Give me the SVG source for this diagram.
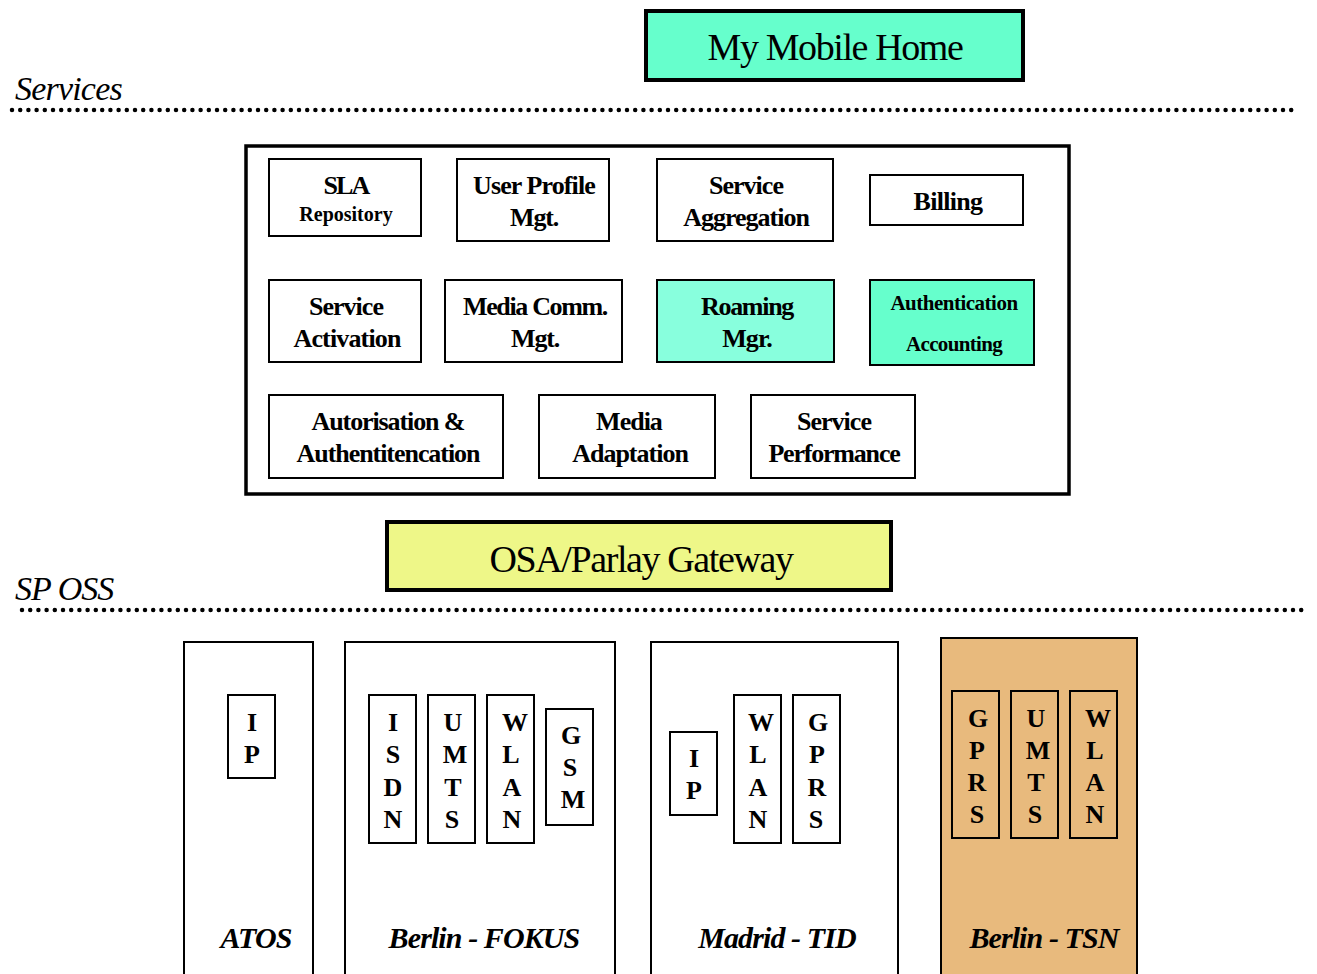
<svg xmlns="http://www.w3.org/2000/svg" width="1317" height="974" viewBox="0 0 1317 974">
  <style>
    .box { fill: #ffffff; stroke: #000000; stroke-width: 2; }
    .thick { stroke-width: 4; }
    text { font-family: "Liberation Serif", "Times New Roman", Times, serif; fill: #000000; }
    .t { text-anchor: middle; }
    .b { font-weight: bold; font-size: 26px; }
    .big { font-size: 38px; letter-spacing: -1.4px; }
    .lbl { font-style: italic; font-size: 34px; }
    .site { font-style: italic; font-weight: bold; font-size: 30px; text-anchor: middle; letter-spacing: -0.9px; }
    .stack { font-weight: bold; font-size: 26px; text-anchor: middle; }
    .dots { stroke: #000000; stroke-width: 4.5; stroke-linecap: round; stroke-dasharray: 0 8.2; }
  </style>

  <!-- layer labels and separators -->
  <g id="layers">
    <text class="lbl" x="15" y="100" letter-spacing="-0.8">Services</text>
    <line class="dots" x1="12" y1="110" x2="1296" y2="110"/>
    <text class="lbl" x="15" y="600" letter-spacing="-1">SP OSS</text>
    <line class="dots" x1="22" y1="610" x2="1306" y2="610"/>
  </g>

  <g id="my-mobile-home">
    <rect class="box thick" x="646" y="11" width="377" height="69" style="fill:#66ffcc"/>
    <text class="t big" x="835" y="60">My Mobile Home</text>
  </g>

  <!-- service platform container -->
  <g id="services-platform">
    <rect class="box" x="246" y="146" width="823" height="348" style="stroke-width:3.5"/>
  </g>

  <g id="sla-repository">
    <rect class="box" x="269" y="159" width="152" height="77"/>
    <text class="t b" x="346" y="194" letter-spacing="-1.8">SLA</text>
    <text class="t b" x="346" y="221" style="font-size:20px">Repository</text>
  </g>

  <g id="user-profile">
    <rect class="box" x="457" y="159" width="152" height="82"/>
    <text class="t b" x="534" y="194" letter-spacing="-0.9">User Profile</text>
    <text class="t b" x="534" y="226" letter-spacing="-1.2">Mgt.</text>
  </g>

  <g id="service-aggregation">
    <rect class="box" x="657" y="159" width="176" height="82"/>
    <text class="t b" x="746" y="194" letter-spacing="-1">Service</text>
    <text class="t b" x="746" y="226" letter-spacing="-1">Aggregation</text>
  </g>

  <g id="billing">
    <rect class="box" x="870" y="175" width="153" height="50"/>
    <text class="t b" x="948" y="210" letter-spacing="-0.7">Billing</text>
  </g>

  <g id="service-activation">
    <rect class="box" x="269" y="280" width="152" height="82"/>
    <text class="t b" x="346" y="315" letter-spacing="-1">Service</text>
    <text class="t b" x="347" y="347" letter-spacing="-0.85">Activation</text>
  </g>

  <g id="media-comm">
    <rect class="box" x="445" y="280" width="177" height="82"/>
    <text class="t b" x="535" y="315" letter-spacing="-1.35">Media Comm.</text>
    <text class="t b" x="535" y="347" letter-spacing="-1.2">Mgt.</text>
  </g>

  <g id="roaming-mgr">
    <rect class="box" x="657" y="280" width="177" height="82" style="fill:#88ffdd"/>
    <text class="t b" x="747" y="315" letter-spacing="-1.3">Roaming</text>
    <text class="t b" x="747" y="347" letter-spacing="-0.9">Mgr.</text>
  </g>

  <g id="authentication-accounting">
    <rect class="box" x="870" y="280" width="164" height="85" style="fill:#66ffcc"/>
    <text class="t b" x="954" y="310" style="font-size:21px" letter-spacing="-0.5">Authentication</text>
    <text class="t b" x="954" y="351" style="font-size:21px" letter-spacing="-0.67">Accounting</text>
  </g>

  <g id="autorisation">
    <rect class="box" x="269" y="395" width="234" height="83"/>
    <text class="t b" x="388" y="430" letter-spacing="-1.1">Autorisation &amp;</text>
    <text class="t b" x="388" y="462" letter-spacing="-1.05">Authentitencation</text>
  </g>

  <g id="media-adaptation">
    <rect class="box" x="539" y="395" width="176" height="83"/>
    <text class="t b" x="629" y="430" letter-spacing="-1">Media</text>
    <text class="t b" x="630" y="462" letter-spacing="-1">Adaptation</text>
  </g>

  <g id="service-performance">
    <rect class="box" x="751" y="395" width="164" height="83"/>
    <text class="t b" x="834" y="430" letter-spacing="-1">Service</text>
    <text class="t b" x="834" y="462" letter-spacing="-1.2">Performance</text>
  </g>

  <g id="osa-parlay-gateway">
    <rect class="box thick" x="387" y="522" width="504" height="68" style="fill:#eef788"/>
    <text class="t big" x="641" y="572">OSA/Parlay Gateway</text>
  </g>

  <!-- network sites -->
  <g id="site-atos">
    <rect class="box" x="184" y="642" width="129" height="340"/>
    <rect class="box" x="228" y="695" width="47" height="83"/>
    <text class="stack" x="252" y="731">I</text>
    <text class="stack" x="252" y="763">P</text>
    <text class="site" x="256" y="948">ATOS</text>
  </g>

  <g id="site-berlin-fokus">
    <rect class="box" x="345" y="642" width="270" height="340"/>
    <rect class="box" x="369" y="695" width="47" height="148"/>
    <text class="stack" x="393" y="731">I</text>
    <text class="stack" x="393" y="763">S</text>
    <text class="stack" x="393" y="796">D</text>
    <text class="stack" x="393" y="828">N</text>
    <rect class="box" x="428" y="695" width="47" height="148"/>
    <text class="stack" x="453" y="731">U</text>
    <text class="stack" x="455" y="763">M</text>
    <text class="stack" x="453" y="796">T</text>
    <text class="stack" x="452" y="828">S</text>
    <rect class="box" x="487" y="695" width="47" height="148"/>
    <text class="stack" x="515" y="731">W</text>
    <text class="stack" x="511" y="763">L</text>
    <text class="stack" x="512" y="796">A</text>
    <text class="stack" x="512" y="828">N</text>
    <rect class="box" x="546" y="709" width="47" height="116"/>
    <text class="stack" x="571" y="744">G</text>
    <text class="stack" x="570" y="776">S</text>
    <text class="stack" x="573" y="808">M</text>
    <text class="site" x="484" y="948">Berlin - FOKUS</text>
  </g>

  <g id="site-madrid-tid">
    <rect class="box" x="651" y="642" width="247" height="340"/>
    <rect class="box" x="670" y="732" width="47" height="83"/>
    <text class="stack" x="694" y="767">I</text>
    <text class="stack" x="694" y="799">P</text>
    <rect class="box" x="734" y="695" width="47" height="148"/>
    <text class="stack" x="761" y="731">W</text>
    <text class="stack" x="758" y="763">L</text>
    <text class="stack" x="758" y="796">A</text>
    <text class="stack" x="758" y="828">N</text>
    <rect class="box" x="793" y="695" width="47" height="148"/>
    <text class="stack" x="818" y="731">G</text>
    <text class="stack" x="817" y="763">P</text>
    <text class="stack" x="817" y="796">R</text>
    <text class="stack" x="816" y="828">S</text>
    <text class="site" x="777" y="948">Madrid - TID</text>
  </g>

  <g id="site-berlin-tsn">
    <rect class="box" x="941" y="638" width="196" height="344" style="fill:#e8ba7d"/>
    <rect class="box" x="952" y="691" width="47" height="147" style="fill:none"/>
    <text class="stack" x="978" y="727">G</text>
    <text class="stack" x="977" y="759">P</text>
    <text class="stack" x="977" y="791">R</text>
    <text class="stack" x="977" y="823">S</text>
    <rect class="box" x="1011" y="691" width="47" height="147" style="fill:none"/>
    <text class="stack" x="1036" y="727">U</text>
    <text class="stack" x="1038" y="759">M</text>
    <text class="stack" x="1036" y="791">T</text>
    <text class="stack" x="1035" y="823">S</text>
    <rect class="box" x="1070" y="691" width="47" height="147" style="fill:none"/>
    <text class="stack" x="1098" y="727">W</text>
    <text class="stack" x="1095" y="759">L</text>
    <text class="stack" x="1095" y="791">A</text>
    <text class="stack" x="1095" y="823">N</text>
    <text class="site" x="1044" y="948">Berlin - TSN</text>
  </g>

  <!-- the drawing has no connectors between nodes -->
  <g id="connectors"/>
</svg>
